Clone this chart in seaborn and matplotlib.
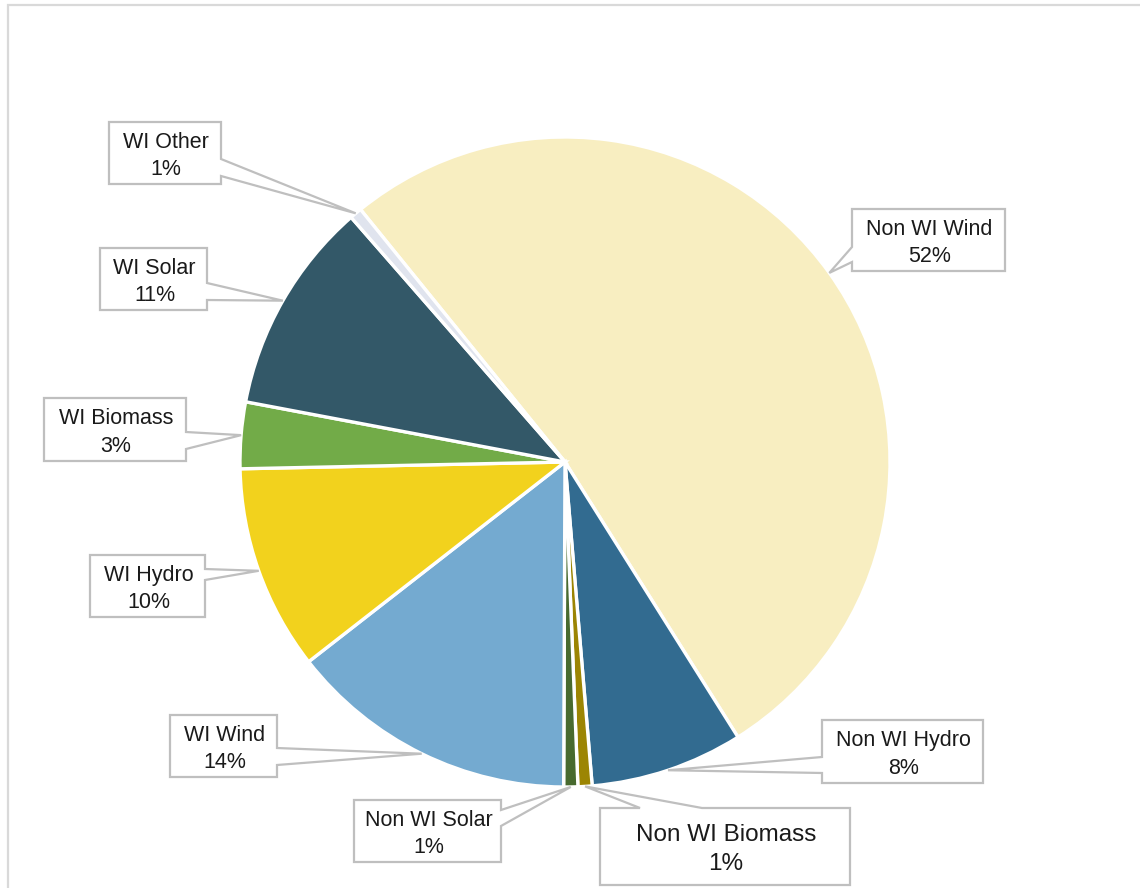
import numpy as np
import matplotlib
matplotlib.use("Agg")
import matplotlib.pyplot as plt
from matplotlib.patches import Polygon
import seaborn as sns

# Renewable generation mix (percent of total), listed clockwise from the top
sources = ["Non WI Wind", "Non WI Hydro", "Non WI Biomass", "Non WI Solar",
           "WI Wind", "WI Hydro", "WI Biomass", "WI Solar", "WI Other"]
shares = [51.9, 7.6, 0.7, 0.7, 14.4, 10.2, 3.3, 10.6, 0.6]
colors = ["#F8EEC1", "#326B90", "#9C8503", "#486A2F",
          "#74AAD0", "#F2D21D", "#72AB48", "#335868", "#E0E4EE"]

sns.set_theme(style="white")
plt.rcParams["font.family"] = ["Liberation Sans", "DejaVu Sans"]

W, H = 1140, 888
fig = plt.figure(figsize=(W / 100, H / 100), dpi=100)
ax = fig.add_axes([0, 0, 1, 1])
ax.set_xlim(0, W)
ax.set_ylim(0, H)
ax.set_aspect("equal")
ax.axis("off")


def py(y):
    """Convert a top-down pixel row into the axes' y coordinate."""
    return H - y


# outer chart-area frame
ax.plot([7.5, 7.5, W + 5], [py(H + 5), py(5.5), py(5.5)],
        color="#D9D9D9", lw=1.6, solid_joinstyle="miter", clip_on=False)

center = (565, py(462))
radius = 325
wedges, _ = ax.pie(shares, colors=colors, startangle=129, counterclock=False,
                   center=center, radius=radius, frame=True,
                   wedgeprops=dict(edgecolor="white", linewidth=2.4))
ax.set_xlim(0, W)
ax.set_ylim(0, H)
ax.axis("off")

# callout boxes: (left, top, right, bottom) in pixels, side holding the pointer,
# span of the pointer base along that side, font size
callouts = {
    "Non WI Wind":    ((852, 209, 1005, 271), "left",  (247, 262), 15.5),
    "Non WI Hydro":   ((822, 720, 983, 783),  "left",  (757, 773), 15.5),
    "Non WI Biomass": ((600, 808, 850, 885),  "top",   (640, 702), 17.5),
    "Non WI Solar":   ((354, 800, 501, 862),  "right", (810, 826), 15.5),
    "WI Wind":        ((170, 715, 277, 777),  "right", (748, 765), 15.5),
    "WI Hydro":       ((90, 555, 205, 617),   "right", (569, 580), 15.5),
    "WI Biomass":     ((44, 398, 186, 461),   "right", (432, 449), 15.5),
    "WI Solar":       ((100, 248, 207, 310),  "right", (283, 300), 15.5),
    "WI Other":       ((109, 122, 221, 184),  "right", (159, 176), 15.5),
}

for name, value, wedge in zip(sources, shares, wedges):
    (x0, y0, x1, y1), side, (a, b), fs = callouts[name]
    mid = np.deg2rad((wedge.theta1 + wedge.theta2) / 2)
    tip = (center[0] + radius * np.cos(mid), center[1] + radius * np.sin(mid))
    Y0, Y1 = py(y0), py(y1)
    if side == "right":
        pts = [(x0, Y0), (x1, Y0), (x1, py(a)), tip, (x1, py(b)), (x1, Y1), (x0, Y1)]
    elif side == "left":
        pts = [(x0, Y0), (x1, Y0), (x1, Y1), (x0, Y1), (x0, py(b)), tip, (x0, py(a))]
    else:
        pts = [(x0, Y0), (a, Y0), tip, (b, Y0), (x1, Y0), (x1, Y1), (x0, Y1)]
    ax.add_patch(Polygon(pts, closed=True, facecolor="white", edgecolor="#BFBFBF",
                         linewidth=1.6, joinstyle="miter", zorder=5))
    ax.text((x0 + x1) / 2 + 1, (Y0 + Y1) / 2 - 3, f"{name}\n{value:.0f}%",
            ha="center", va="center", fontsize=fs, color="#1A1A1A",
            linespacing=1.4, zorder=6)

fig.savefig("out.png", dpi=100, facecolor="white")
